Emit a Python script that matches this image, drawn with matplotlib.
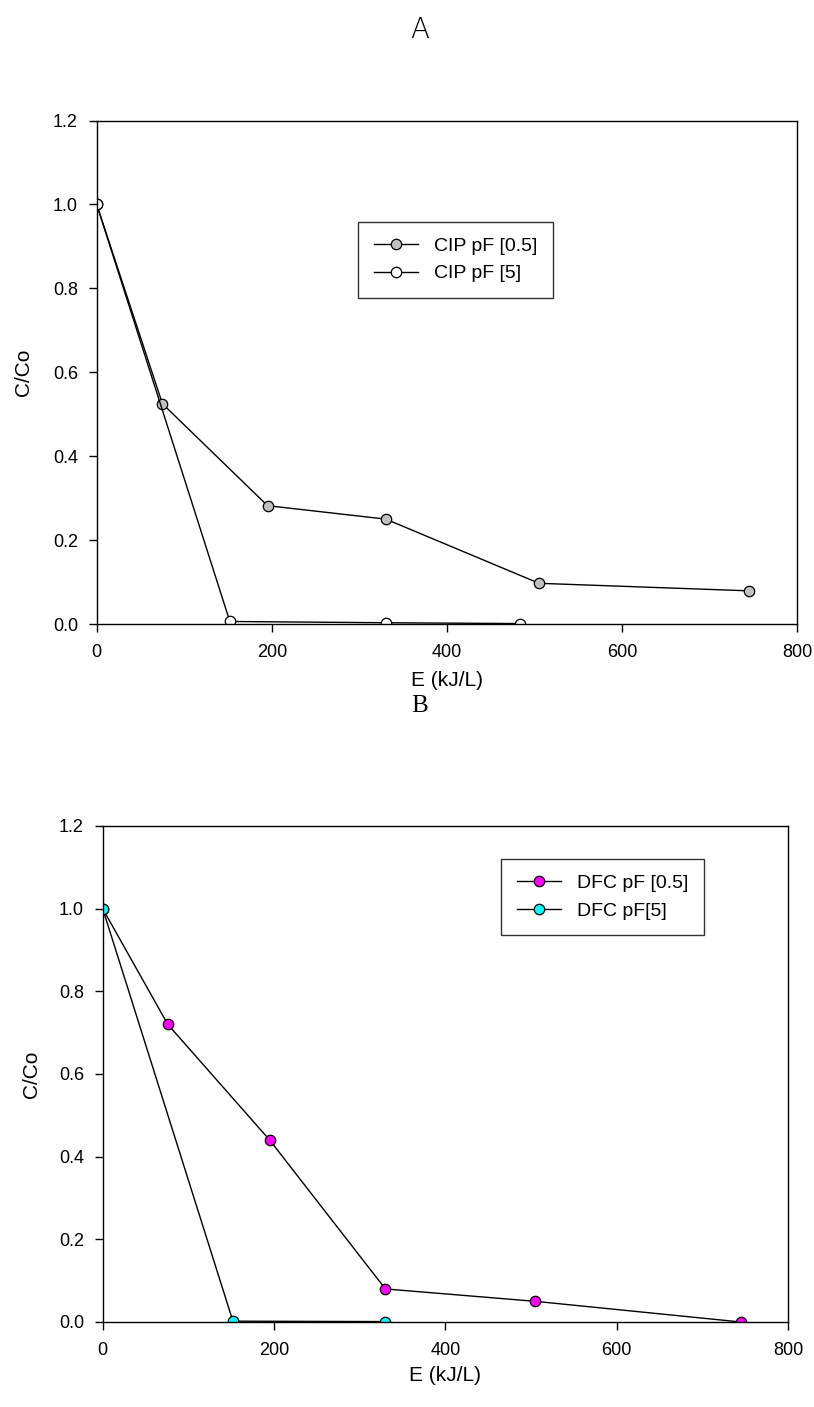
import matplotlib
matplotlib.use("Agg")
import matplotlib.pyplot as plt

plt.rcParams['font.family'] = ['Liberation Sans', 'DejaVu Sans']

# Panel A: CIP degradation vs. specific energy
e_cip_05 = [0, 75, 195, 330, 505, 745]
c_cip_05 = [1.0, 0.525, 0.282, 0.25, 0.097, 0.079]
e_cip_5 = [0, 152, 330, 483]
c_cip_5 = [1.0, 0.006, 0.003, 0.001]

# Panel B: DFC degradation vs. specific energy
e_dfc_05 = [0, 76, 195, 330, 505, 745]
c_dfc_05 = [1.0, 0.72, 0.44, 0.08, 0.05, 0.0]
e_dfc_5 = [0, 152, 330]
c_dfc_5 = [1.0, 0.002, 0.001]

x_ticks = [0, 200, 400, 600, 800]
y_ticks = [0.0, 0.2, 0.4, 0.6, 0.8, 1.0, 1.2]

W, H = 814, 1407
fig = plt.figure(figsize=(W / 100, H / 100), dpi=100)


def rect(x0, y0, x1, y1):
    return [x0 / W, 1 - y1 / H, (x1 - x0) / W, (y1 - y0) / H]


def fig_y(py):
    return 1 - py / H


def style_axes(ax, ylab_x, xlab_y):
    ax.set_xlim(0, 800)
    ax.set_ylim(0, 1.2)
    ax.set_xticks(x_ticks)
    ax.set_yticks(y_ticks)
    ax.set_yticklabels([f"{v:.1f}" for v in y_ticks])
    ax.tick_params(direction='out', length=5.5, width=1, labelsize=13)
    ax.tick_params(axis='x', pad=9)
    ax.tick_params(axis='y', pad=8)
    for s in ax.spines.values():
        s.set_linewidth(1.0)
    ax.set_xlabel("E (kJ/L)", fontsize=15)
    ax.set_ylabel("C/Co", fontsize=15)
    ax.xaxis.set_label_coords(0.5, xlab_y)
    ax.yaxis.set_label_coords(ylab_x, 0.5)


mk = dict(marker='o', markersize=7.5, markeredgecolor='black',
          markeredgewidth=0.9, color='black', linewidth=1.0)

leg_kw = dict(loc='upper left', fontsize=14, frameon=True, fancybox=False,
              edgecolor='black', handlelength=2.3, borderpad=0.8,
              labelspacing=0.5, handletextpad=0.8, borderaxespad=0)

axA = fig.add_axes(rect(96.7, 120.5, 797.5, 624))
axA.plot(e_cip_05, c_cip_05, markerfacecolor='#c0c0c0', label='CIP pF [0.5]', **mk)
axA.plot(e_cip_5, c_cip_5, markerfacecolor='white', label='CIP pF [5]', **mk)
style_axes(axA, -0.091, -0.0935)
legA = axA.legend(bbox_to_anchor=(358 / W, fig_y(222)),
                  bbox_transform=fig.transFigure, **leg_kw)
legA.get_frame().set_linewidth(1.0)

axB = fig.add_axes(rect(102.7, 826, 788, 1322))
axB.plot(e_dfc_05, c_dfc_05, markerfacecolor='#ff00ff', label='DFC pF [0.5]', **mk)
axB.plot(e_dfc_5, c_dfc_5, markerfacecolor='#00ffff', label='DFC pF[5]', **mk)
style_axes(axB, -0.0905, -0.089)
legB = axB.legend(bbox_to_anchor=(501 / W, fig_y(859)),
                  bbox_transform=fig.transFigure, **leg_kw)
legB.get_frame().set_linewidth(1.0)

# Panel letters
fig.text(420 / W, fig_y(30), "A", ha='center', va='center', fontsize=20,
         family=['DejaVu Sans'], fontweight='light')
fig.text(420 / W, fig_y(706), "B", ha='center', va='center', fontsize=18,
         family=['Liberation Serif', 'DejaVu Serif'])

fig.savefig("out.png", dpi=100)
